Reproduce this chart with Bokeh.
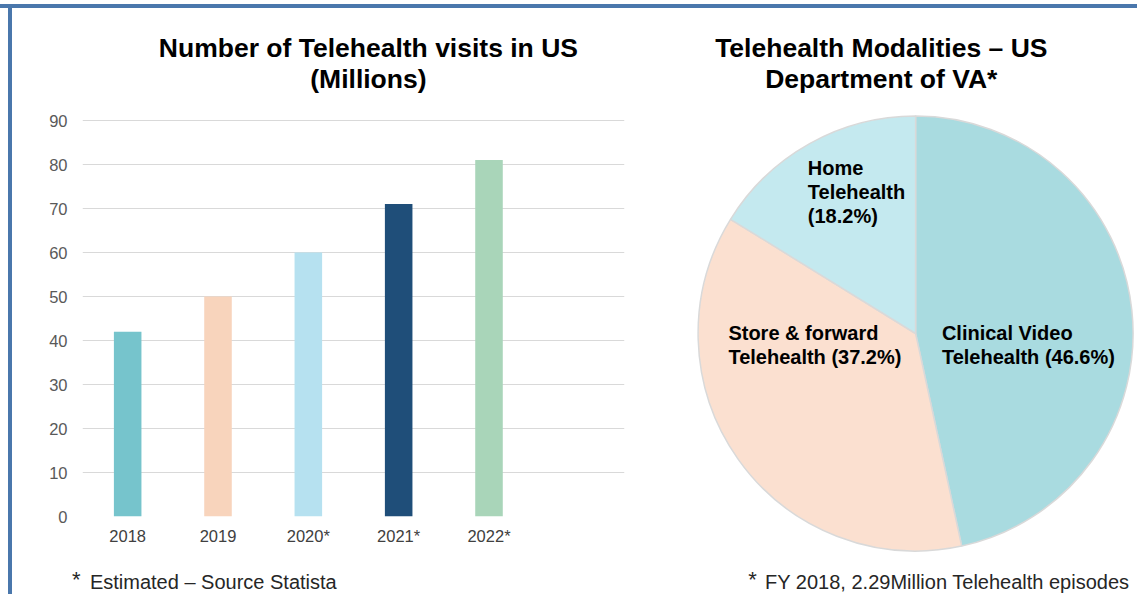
import math
from bokeh.plotting import figure
from bokeh.models import Range1d, Label, FixedTicker, ColumnDataSource, Div
from bokeh.layouts import row, column
from bokeh.embed import file_html
from bokeh.resources import INLINE

# ---------------- data ----------------
years = ["2018", "2019", "2020*", "2021*", "2022*"]
visits = [42, 50, 60, 71, 81]
bar_colors = ["#76C4CC", "#F8D4BC", "#B6E1F0", "#1F4E79", "#A9D5B9"]
y_ticks = [0, 10, 20, 30, 40, 50, 60, 70, 80, 90]

modalities = ["Clinical Video", "Store & forward", "Home"]
shares = [46.6, 37.2, 18.2]
pie_colors = ["#A9DBE0", "#FBE0D0", "#C4E9EF"]

bar_title = ["Number of Telehealth visits in US", "(Millions)"]
pie_title = ["Telehealth Modalities \u2013 US", "Department of VA*"]
bar_note = "Estimated \u2013 Source Statista"
pie_note = "FY 2018, 2.29Million Telehealth episodes"

FONT = "Liberation Sans"
BORDER = "#4A77AC"

# ---------------- geometry (page pixels) ----------------
W, H = 1137, 594
X0, Y0 = 12, 8            # top-left of the figures (after the frame lines)
SPLIT = 655               # boundary between bar and pie figures
FOOT_TOP = 560            # top of footnote strip
F_LEFT, F_RIGHT, F_BOTTOM, F_90 = 82, 624, 516, 120
ux = (F_RIGHT - F_LEFT) / 6.0
uy = (F_BOTTOM - F_90) / 90.0


def bx(px):
    return (px - F_LEFT) / ux - 0.5


def by(py):
    return (F_BOTTOM - py) / uy


# ---------------- bar chart ----------------
p1 = figure(width=SPLIT - X0, height=FOOT_TOP - Y0,
            x_range=Range1d(-0.5, 5.5), y_range=Range1d(0, by(Y0)),
            output_backend="svg", toolbar_location=None, title=None,
            min_border_left=F_LEFT - X0, min_border_right=SPLIT - F_RIGHT,
            min_border_top=0, min_border_bottom=FOOT_TOP - F_BOTTOM)
p1.frame_align = False
src = ColumnDataSource(dict(x=list(range(len(years))), top=visits, color=bar_colors))
p1.vbar(x="x", top="top", width=0.305, fill_color="color", line_color=None, source=src)

p1.xaxis.ticker = FixedTicker(ticks=list(range(len(years))))
p1.xaxis.major_label_overrides = {i: y for i, y in enumerate(years)}
p1.yaxis.ticker = FixedTicker(ticks=y_ticks)
for ax in (p1.xaxis[0], p1.yaxis[0]):
    ax.axis_line_color = None
    ax.major_tick_line_color = None
    ax.minor_tick_line_color = None
    ax.major_tick_out = 0
    ax.major_tick_in = 0
    ax.major_label_text_font = FONT
    ax.major_label_text_font_size = "16.5px"
p1.xaxis.major_label_text_color = "#404040"
p1.yaxis.major_label_text_color = "#595959"
p1.xaxis.major_label_standoff = 10
p1.yaxis.major_label_standoff = 15
p1.xgrid.visible = False
p1.ygrid.grid_line_color = "#D9D9D9"
p1.ygrid.grid_line_width = 1
p1.outline_line_color = None

for txt, py in zip(bar_title, [47.4, 78.9]):
    p1.add_layout(Label(x=bx(367.9), y=by(py), text=txt, text_align="center", text_baseline="middle",
                        text_font=FONT, text_font_size="26.5px", text_font_style="bold",
                        text_color="#000000"))

# ---------------- pie chart ----------------
CX, CY, R = 915.1, 333.0, 217.5
p2 = figure(width=W - SPLIT, height=FOOT_TOP - Y0,
            x_range=Range1d(SPLIT - CX, W - CX), y_range=Range1d(CY - FOOT_TOP, CY - Y0),
            output_backend="svg", toolbar_location=None, title=None,
            x_axis_location=None, y_axis_location=None, min_border=0)
p2.frame_align = False
p2.grid.visible = False
p2.outline_line_color = None

starts, ends = [], []
cum = 0.0
for s in shares:
    a0 = cum
    a1 = min(cum + s, 100.0)
    starts.append(math.pi / 2 - a0 / 100 * 2 * math.pi)
    ends.append(math.pi / 2 - a1 / 100 * 2 * math.pi)
    cum += s
psrc = ColumnDataSource(dict(start=starts, end=ends, color=pie_colors))
p2.wedge(x=0, y=0, radius=R, start_angle="start", end_angle="end", direction="clock",
         fill_color="color", line_color="#D9D9D9", line_width=1.5, source=psrc)

label_lines = [
    [modalities[0], "Telehealth (%.1f%%)" % shares[0]],
    [modalities[1], "Telehealth (%.1f%%)" % shares[1]],
    [modalities[2], "Telehealth", "(%.1f%%)" % shares[2]],
]
label_pos = [(941.4, 332.5), (727.9, 332.5), (807.3, 167.7)]
for lines, (lx, ly) in zip(label_lines, label_pos):
    for k, t in enumerate(lines):
        p2.add_layout(Label(x=lx - CX, y=CY - (ly + 23.7 * k), text=t, text_align="left",
                            text_baseline="middle", text_font=FONT, text_font_size="20px",
                            text_font_style="bold", text_color="#000000"))

for txt, py in zip(pie_title, [47.4, 78.9]):
    p2.add_layout(Label(x=880.8 - CX, y=CY - py, text=txt, text_align="center", text_baseline="middle",
                        text_font=FONT, text_font_size="26.5px", text_font_style="bold",
                        text_color="#000000"))

# ---------------- footnote strip ----------------
p3 = figure(width=W - X0, height=H - FOOT_TOP,
            x_range=Range1d(X0, W), y_range=Range1d(H, FOOT_TOP),
            output_backend="svg", toolbar_location=None, title=None,
            x_axis_location=None, y_axis_location=None, min_border=0)
p3.frame_align = False
p3.grid.visible = False
p3.outline_line_color = None
for ax_x, tx_x, txt in [(71.5, 89.4, bar_note), (747.7, 764.6, pie_note)]:
    p3.add_layout(Label(x=ax_x, y=578.5, text="*", text_align="left", text_baseline="middle",
                        text_font=FONT, text_font_size="22px", text_color="#262626"))
    p3.add_layout(Label(x=tx_x, y=581.2, text=txt, text_align="left", text_baseline="middle",
                        text_font=FONT, text_font_size="20px", text_color="#262626"))

# ---------------- frame lines ----------------
top_bar = Div(text="", width=W, height=Y0, margin=0,
              styles={"background": "linear-gradient(to bottom, #ffffff 0px, #ffffff 4px, %s 4px, %s 8px)" % (BORDER, BORDER)})
left_bar = Div(text="", width=X0, height=H - Y0, margin=0,
               styles={"background": "linear-gradient(to right, #ffffff 0px, #ffffff 8px, %s 8px, %s 12px)" % (BORDER, BORDER)})

layout = column(top_bar, row(left_bar, column(row(p1, p2, spacing=0), p3, spacing=0), spacing=0), spacing=0)

open("out.html", "w").write(file_html(layout, INLINE))
